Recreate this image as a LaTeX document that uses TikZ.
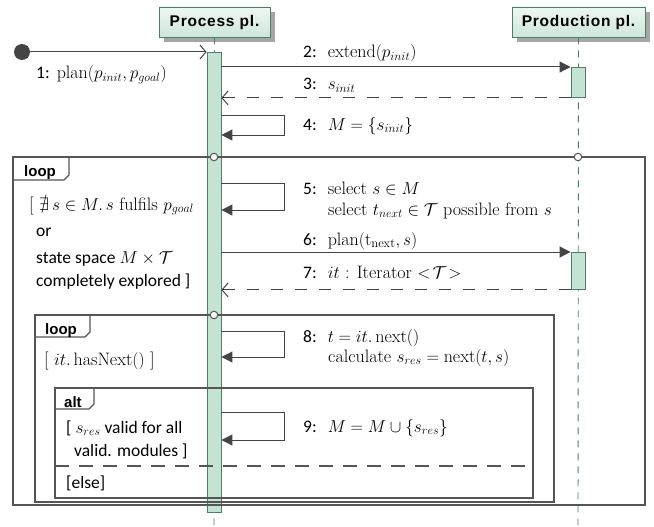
\documentclass[tikz,border=0pt]{standalone}
\usepackage{amssymb}
\usepackage{fontspec}
\newfontfamily\calib{Carlito}
\newfontfamily\hdrfont{Liberation Sans}[LetterSpace=5]
\newfontfamily\tabfont{Liberation Sans}
\usetikzlibrary{arrows.meta,shadows}
\definecolor{lgreen}{HTML}{C5E3D3}
\definecolor{hgreenA}{HTML}{EEF7F2}
\definecolor{hgreenB}{HTML}{CFE6DA}
\definecolor{dgreen}{HTML}{4E7D68}
\definecolor{framec}{HTML}{555555}
\definecolor{arrowc}{HTML}{444444}
\tikzset{
  head/.style={draw=dgreen, line width=0.9pt, top color=hgreenA, bottom color=hgreenB,
    minimum height=30pt, inner sep=0pt,
    font=\hdrfont\bfseries\fontsize{15.5}{18}\selectfont,
    drop shadow={shadow xshift=5pt, shadow yshift=-5pt, fill=black!35, opacity=1}},
  lifeline/.style={draw=dgreen, line width=0.9pt, dash pattern=on 7pt off 6pt},
  actbar/.style={draw=dgreen, line width=0.9pt, fill=lgreen, minimum width=14pt, inner sep=0pt, anchor=north},
  syncmsg/.style={draw=arrowc, line width=1pt, -{Triangle[length=11pt,width=11pt]}},
  selfmsg/.style={draw=arrowc, line width=1pt, -{Triangle[length=11pt,width=11pt]}},
  replymsg/.style={draw=arrowc, line width=1pt, dash pattern=on 12pt off 12pt, -{Straight Barb[length=6pt,width=14pt]}},
  callmsg/.style={draw=arrowc, line width=1pt, -{Straight Barb[length=6pt,width=14pt]}},
  lbl/.style={anchor=base west, inner sep=0pt, font=\fontsize{18}{21}\selectfont},
  glbl/.style={anchor=base west, inner sep=0pt, font=\calib\fontsize{17.5}{20}\selectfont},
  framebox/.style={draw=framec, line width=1.1pt},
  tablbl/.style={anchor=base west, inner sep=0pt, font=\tabfont\bfseries\fontsize{15}{18}\selectfont},
  gate/.style={circle, draw=framec, fill=white, line width=1pt, minimum size=7.5pt, inner sep=0pt},
}
\newcommand{\numlbl}[1]{{\calib\fontsize{17.5}{20}\selectfont #1}\hspace{11pt}}
\begin{document}
\begin{tikzpicture}[x=1pt,y=-1pt]
\useasboundingbox (0,0) rectangle (654,527);
% heads
\node[head, minimum width=111pt] (pp) at (214.5,22) {Process pl.};
\node[head, minimum width=133pt] (prod) at (578.5,22) {Production pl.};
% lifelines
\coordinate (ppend) at (214,527);
\coordinate (prodend) at (578,527);
\draw[lifeline] (pp.south) -- (ppend);
\draw[lifeline] (prod.south) -- (prodend);
% activation bars
\node[actbar, minimum height=460pt] (a1) at (214,52) {};
\node[actbar, minimum height=30pt] (a2) at (578,67) {};
\node[actbar, minimum height=37pt] (a3) at (578,252) {};
% message 1
\node[circle, fill=arrowc, minimum size=16pt, inner sep=0pt] (start) at (22,52) {};
\draw[callmsg] (start) -- (a1.north west);
\node[lbl] (l1) at (36,79) {{\calib\fontsize{17.5}{20}\selectfont 1:}\hspace{7pt}$\mathrm{plan}(p_{init}, p_{goal})$};
% message 2
\draw[syncmsg] (a1.east |- a2.north) -- (a2.north west);
\node[lbl] (l2) at (303,58) {\numlbl{2:}extend$(p_{init})$};
% message 3
\draw[replymsg] (a2.south west) -- (a1.east |- a2.south);
\node[lbl] (l3) at (303,90) {\numlbl{3:}$s_{init}$};
% message 4
\draw[selfmsg] (a1.east |- 0,116) -- (284,116) -- (284,135) -- (a1.east |- 0,135);
\node[lbl] (l4) at (303,130) {\numlbl{4:}$M = \{s_{init}\}$};
% outer loop
\draw[framebox] (13,157) rectangle (645,505);
\draw[framebox] (69,157) -- (69,175) -- (64,180) -- (13,180);
\node[tablbl] (t1) at (24,176) {loop};
\node[gate] (g1) at (214,157) {};
\node[gate] (g2) at (578,157) {};
\node[lbl] (c1) at (29,210) {[ $\nexists\, s \in M.\, s$ fulfils $p_{goal}$};
\node[glbl] (c2) at (36,236) {or};
\node[glbl] (c3) at (36,263) {state space $M \times \mathcal{T}$};
\node[glbl] (c4) at (36,286) {completely explored ]};
% message 5
\draw[selfmsg] (a1.east |- 0,183) -- (284,183) -- (284,210) -- (a1.east |- 0,210);
\node[lbl] (l5) at (303,194) {\numlbl{5:}select $s \in M$};
\node[lbl] (l5b) at (328,215) {select $t_{next} \in \mathcal{T}$ possible from $s$};
% message 6
\draw[syncmsg] (a1.east |- a3.north) -- (a3.north west);
\node[lbl] (l6) at (303,245) {\numlbl{6:}$\mathrm{plan}(\mathrm{t}_{\mathrm{next}}, s)$};
% message 7
\draw[replymsg] (a3.south west) -- (a1.east |- a3.south);
\node[lbl] (l7) at (303,278) {\numlbl{7:}$it$ : Iterator $<\!\mathcal{T}\!>$};
% inner loop
\draw[framebox] (35,315) rectangle (554,502);
\draw[framebox] (90,315) -- (90,332) -- (85,337) -- (35,337);
\node[tablbl] (t2) at (45,334) {loop};
\node[gate] (g3) at (214,315) {};
\node[lbl] (c5) at (44,365) {[ $it.\,\mathrm{hasNext}()$ ]};
% message 8
\draw[selfmsg] (a1.east |- 0,331) -- (284,331) -- (284,357) -- (a1.east |- 0,357);
\node[lbl] (l8) at (303,342) {\numlbl{8:}$t = it.\,\mathrm{next}()$};
\node[lbl] (l8b) at (328,362) {calculate $s_{res} = \mathrm{next}(t, s)$};
% alt
\draw[framebox] (55,388) rectangle (533,498);
\draw[framebox] (94,388) -- (94,404) -- (89,409) -- (55,409);
\node[tablbl] (t3) at (64,407) {alt};
\draw[framebox, dash pattern=on 14pt off 10pt] (55,466) -- (533,466);
\node[glbl] (c6) at (66,433) {[ $s_{res}$ valid for all};
\node[glbl] (c7) at (74,456) {valid. modules ]};
\node[glbl] (c8) at (66,488) {[else]};
% message 9
\draw[selfmsg] (a1.east |- 0,412) -- (284,412) -- (284,440) -- (a1.east |- 0,440);
\node[lbl] (l9) at (303,432) {\numlbl{9:}$M = M \cup \{s_{res}\}$};
\end{tikzpicture}
\end{document}
